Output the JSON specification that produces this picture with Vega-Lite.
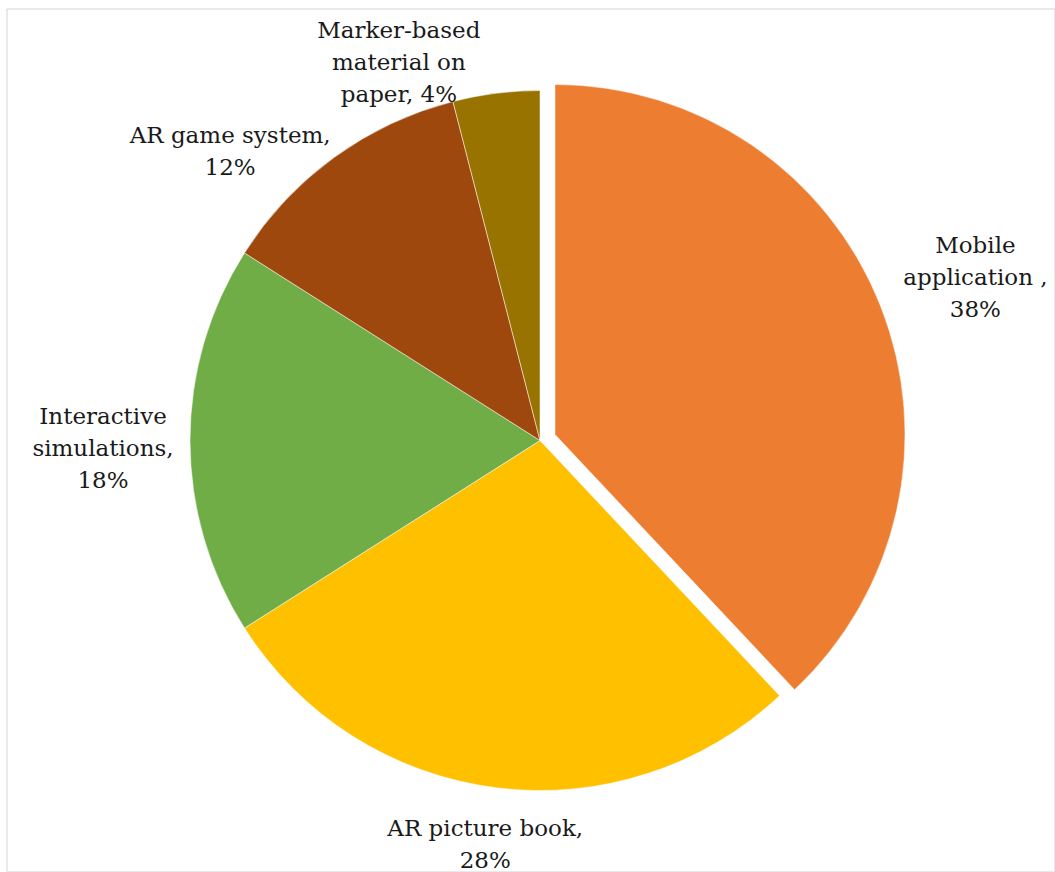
{
  "$schema": "https://vega.github.io/schema/vega-lite/v6.json",
  "width": 1048,
  "height": 863,
  "autosize": {"type": "none"},
  "padding": {"left": 7, "top": 9, "right": 0, "bottom": 0},
  "background": "white",
  "config": {
    "view": {"stroke": "#d4d4d4", "strokeWidth": 1},
    "text": {"font": "DejaVu Serif", "fontSize": 23, "color": "#1a1a1a", "lineHeight": 32, "align": "center", "baseline": "middle", "lineBreak": "\n"}
  },
  "data": {
    "values": [
      {"category": "Mobile application", "value": 38, "order": 1, "label": "Mobile\napplication ,\n38%"},
      {"category": "AR picture book", "value": 28, "order": 2, "label": "AR picture book,\n28%"},
      {"category": "Interactive simulations", "value": 18, "order": 3, "label": "Interactive\nsimulations,\n18%"},
      {"category": "AR game system", "value": 12, "order": 4, "label": "AR game system,\n12%"},
      {"category": "Marker-based material on paper", "value": 4, "order": 5, "label": "Marker-based\nmaterial on\npaper, 4%"}
    ]
  },
  "transform": [
    {"stack": "value", "groupby": [], "sort": [{"field": "order", "order": "ascending"}], "as": ["v0", "v1"]},
    {"calculate": "(datum.v0 + datum.v1) / 2", "as": "mid"}
  ],
  "layer": [
    {
      "transform": [{"filter": "datum.order === 1"}],
      "mark": {"type": "rect", "fill": null, "stroke": "#d4d4d4", "strokeWidth": 1},
      "encoding": {}
    },
    {
      "transform": [{"filter": "datum.category !== 'Mobile application'"}],
      "mark": {"type": "arc", "outerRadius": 350, "xOffset": 9, "stroke": "white", "strokeWidth": 0.5},
      "encoding": {
        "theta": {"field": "v0", "type": "quantitative", "stack": null, "scale": {"domain": [0, 100]}},
        "theta2": {"field": "v1"},
        "color": {
          "field": "category", "type": "nominal", "legend": null,
          "scale": {
            "domain": ["Mobile application", "AR picture book", "Interactive simulations", "AR game system", "Marker-based material on paper"],
            "range": ["#ED7D31", "#FFC000", "#70AD47", "#9E480E", "#997300"]
          }
        }
      }
    },
    {
      "transform": [{"filter": "datum.category === 'Mobile application'"}],
      "mark": {"type": "arc", "outerRadius": 350, "xOffset": 24, "yOffset": -6, "stroke": "white", "strokeWidth": 0.5},
      "encoding": {
        "theta": {"field": "v0", "type": "quantitative", "stack": null, "scale": {"domain": [0, 100]}},
        "theta2": {"field": "v1"},
        "color": {"field": "category", "type": "nominal", "legend": null}
      }
    },
    {
      "transform": [{"filter": "datum.category === 'Mobile application'"}],
      "mark": {"type": "text", "radius": 450, "dx": 26, "dy": -29, "lineBreak": "\n"},
      "encoding": {
        "theta": {"field": "mid", "type": "quantitative", "stack": null, "scale": {"domain": [0, 100]}},
        "text": {"field": "label"}
      }
    },
    {
      "transform": [{"filter": "datum.category === 'AR picture book'"}],
      "mark": {"type": "text", "radius": 405, "dx": 5, "dy": -13, "lineBreak": "\n"},
      "encoding": {
        "theta": {"field": "mid", "type": "quantitative", "stack": null, "scale": {"domain": [0, 100]}},
        "text": {"field": "label"}
      }
    },
    {
      "transform": [{"filter": "datum.category === 'Interactive simulations'"}],
      "mark": {"type": "text", "radius": 437, "dx": 9, "dy": -24, "lineBreak": "\n"},
      "encoding": {
        "theta": {"field": "mid", "type": "quantitative", "stack": null, "scale": {"domain": [0, 100]}},
        "text": {"field": "label"}
      }
    },
    {
      "transform": [{"filter": "datum.category === 'AR game system'"}],
      "mark": {"type": "text", "radius": 420, "dx": -54, "dy": 35, "lineBreak": "\n"},
      "encoding": {
        "theta": {"field": "mid", "type": "quantitative", "stack": null, "scale": {"domain": [0, 100]}},
        "text": {"field": "label"}
      }
    },
    {
      "transform": [{"filter": "datum.category === 'Marker-based material on paper'"}],
      "mark": {"type": "text", "radius": 400, "dx": -82, "dy": -13, "lineBreak": "\n"},
      "encoding": {
        "theta": {"field": "mid", "type": "quantitative", "stack": null, "scale": {"domain": [0, 100]}},
        "text": {"field": "label"}
      }
    }
  ]
}
